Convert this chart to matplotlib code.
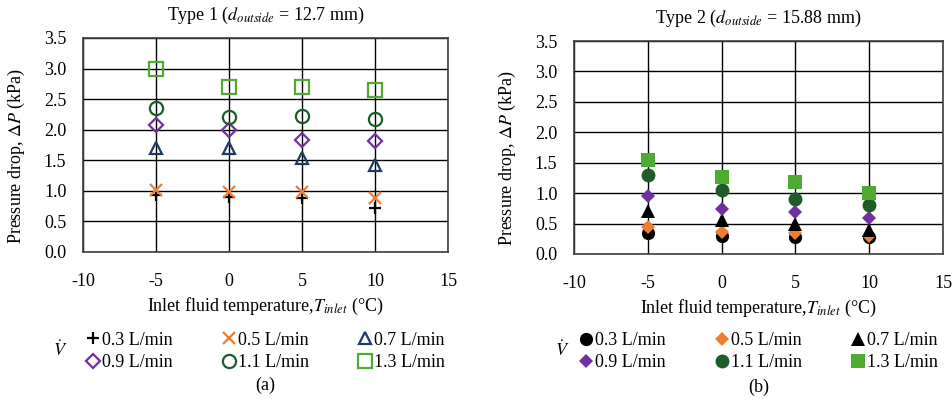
import matplotlib
matplotlib.use("Agg")
import matplotlib.pyplot as plt

plt.rcParams['font.family'] = ['Liberation Serif', 'DejaVu Serif']
plt.rcParams['mathtext.fontset'] = 'stix'
plt.rcParams['axes.unicode_minus'] = False

temps = [-5, 0, 5, 10]
flow_labels = ['0.3 L/min', '0.5 L/min', '0.7 L/min', '0.9 L/min', '1.1 L/min', '1.3 L/min']

# Type 1 (d_outside = 12.7 mm)
t1_03 = [0.94, 0.90, 0.88, 0.72]
t1_05 = [1.02, 0.98, 0.975, 0.88]
t1_07 = [1.70, 1.70, 1.54, 1.42]
t1_09 = [2.07, 1.99, 1.83, 1.82]
t1_11 = [2.355, 2.21, 2.22, 2.175]
t1_13 = [2.99, 2.70, 2.70, 2.645]

# Type 2 (d_outside = 15.88 mm)
t2_03 = [0.345, 0.29, 0.28, 0.28]
t2_05 = [0.45, 0.36, 0.34, 0.29]
t2_07 = [0.70, 0.56, 0.50, 0.40]
t2_09 = [0.957, 0.74, 0.69, 0.59]
t2_11 = [1.30, 1.055, 0.90, 0.81]
t2_13 = [1.55, 1.27, 1.175, 1.01]

orange = '#ED7D31'
navy = '#1F3864'
purple = '#7030A0'
dgreen = '#1E5C2A'
lgreen = '#4EAA30'

FS = 13

fig = plt.figure(figsize=(9.52, 4.0), dpi=100)
ax1 = fig.add_axes([0.0872, 0.370, 0.3834, 0.535])
ax2 = fig.add_axes([0.603, 0.365, 0.3876, 0.5325])

styles1 = [
    dict(marker='+', color='black', ms=9, mew=1.6, mfc='none'),
    dict(marker='x', color=orange, ms=9, mew=1.6, mfc='none'),
    dict(marker='^', color=navy, ms=9, mew=1.6, mfc='none'),
    dict(marker='D', color=purple, ms=7, mew=1.6, mfc='none'),
    dict(marker='o', color=dgreen, ms=9.5, mew=1.6, mfc='none'),
    dict(marker='s', color=lgreen, ms=10, mew=1.6, mfc='none'),
]
styles2 = [
    dict(marker='o', color='black', ms=9.5, mew=0),
    dict(marker='D', color=orange, ms=7, mew=0),
    dict(marker='^', color='black', ms=9.5, mew=0),
    dict(marker='D', color=purple, ms=7, mew=0),
    dict(marker='o', color=dgreen, ms=10, mew=0),
    dict(marker='s', color=lgreen, ms=10.5, mew=0),
]

series1 = [t1_03, t1_05, t1_07, t1_09, t1_11, t1_13]
series2 = [t2_03, t2_05, t2_07, t2_09, t2_11, t2_13]

order = [0, 3, 1, 4, 2, 5]

panels = [
    (ax1, series1, styles1, r'Type 1 ($d_{outside}$ = 12.7 mm)', '(a)', -0.153, -0.063, -0.465),
    (ax2, series2, styles2, r'Type 2 ($d_{outside}$ = 15.88 mm)', '(b)', -0.152, -0.033, -0.458),
]

for ax, series, styles, title, lab, ylx, vdx, legy in panels:
    handles = []
    for vals, st, fl in zip(series, styles, flow_labels):
        h, = ax.plot(temps, vals, linestyle='none', label=fl, zorder=3, **st)
        handles.append(h)
    ax.set_xlim(-10, 15)
    ax.set_ylim(0, 3.5)
    ax.set_xticks([-10, -5, 0, 5, 10, 15])
    yt = [0, 0.5, 1.0, 1.5, 2.0, 2.5, 3.0, 3.5]
    ax.set_yticks(yt)
    ax.set_yticklabels(['%.1f' % v for v in yt])
    ax.grid(True, color='black', linewidth=1.0)
    ax.set_axisbelow(True)
    for s in ax.spines.values():
        s.set_color('#404040')
        s.set_linewidth(1.2)
    ax.tick_params(axis='y', length=0, labelsize=FS, pad=12)
    ax.tick_params(axis='x', length=0, labelsize=FS, pad=15)
    ax.set_title(title, fontsize=FS, pad=13)
    ax.set_ylabel(r'Pressure drop, $\mathit{\Delta P}$ (kPa)', fontsize=FS)
    ax.yaxis.set_label_coords(ylx, 0.45)
    ax.set_xlabel(r'Inlet fluid temperature,$T_{inlet}$ (°C)', fontsize=FS)
    ax.xaxis.set_label_coords(0.5, -0.205)
    ax.legend([handles[i] for i in order], [flow_labels[i] for i in order],
              ncol=3, loc='center', bbox_to_anchor=(0.5, legy),
              frameon=False, fontsize=FS, handlelength=0.8, handletextpad=0.1,
              columnspacing=2.7, labelspacing=0.3, borderaxespad=0, borderpad=0)
    ax.text(vdx, legy + 0.005, r'$\dot{V}$', transform=ax.transAxes, fontsize=FS,
            ha='center', va='center')
    ax.text(0.5, -0.625, lab, transform=ax.transAxes, fontsize=FS, ha='center', va='center')

fig.savefig('out.png', dpi=100)
